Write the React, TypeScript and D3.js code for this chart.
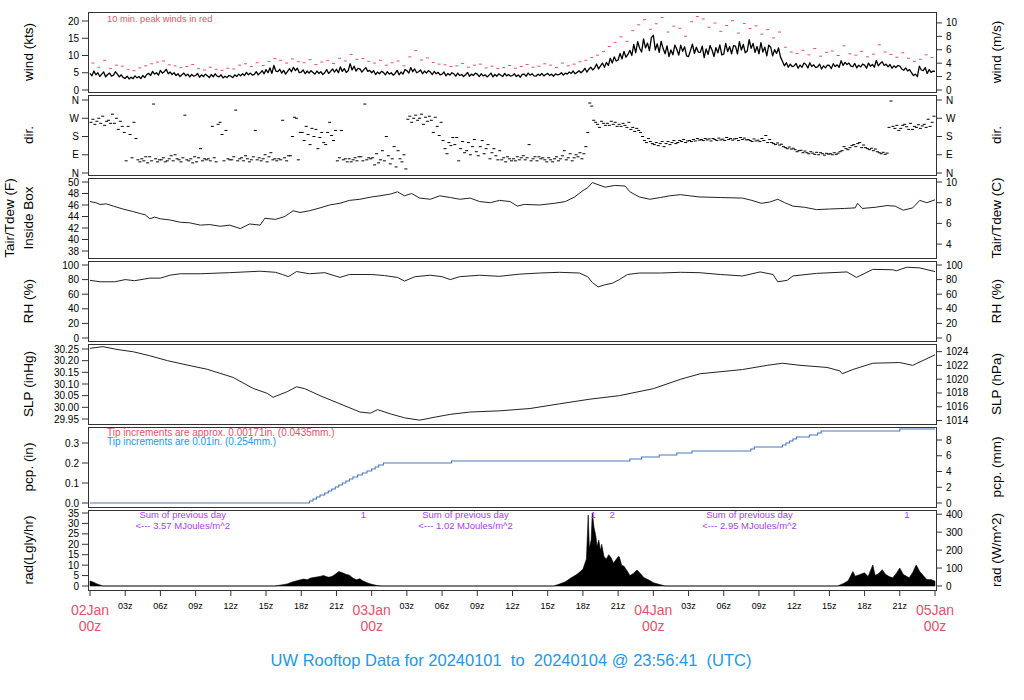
import React from 'react';
import * as d3 from 'd3';

// ---- data (hours since 02Jan 00z) ----
const WIND_STEP_H = 1 / 6; // one sample each 10 min
const WIND_KTS = [
  4.8, 4.1, 5.5, 4.4, 5.0, 3.9, 4.6, 5.2, 3.8, 4.5, 4.9, 4.0,
  4.3, 5.3, 4.6, 3.8, 4.4, 3.6, 3.4, 4.0, 3.2, 3.7, 3.3, 4.1,
  3.5, 3.9, 3.3, 4.2, 3.6, 4.5, 4.8, 4.2, 5.4, 4.6, 5.0, 4.3,
  5.7, 4.9, 5.3, 6.0, 4.7, 5.2, 4.5, 5.0, 4.2, 4.7, 3.9, 4.4,
  4.9, 4.1, 4.6, 3.8, 4.5, 4.0, 4.2, 4.8, 3.7, 4.4, 3.9, 4.6,
  4.1, 3.6, 4.5, 3.8, 4.7, 4.0, 3.8, 4.4, 3.5, 4.0, 3.6, 4.2,
  4.0, 3.6, 4.4, 3.9, 4.6, 4.1, 4.7, 4.2, 5.1, 4.4, 4.9, 4.3,
  4.5, 5.3, 4.4, 4.9, 5.6, 4.7, 5.9, 5.0, 6.4, 4.8, 7.1, 5.5,
  5.3, 6.0, 4.9, 5.7, 4.6, 5.4, 6.2, 5.3, 6.6, 5.6, 6.3, 5.0,
  5.2, 5.8, 4.7, 5.5, 4.9, 5.6, 5.1, 4.6, 5.5, 4.8, 5.3, 4.5,
  5.0, 5.9, 4.8, 5.4, 6.1, 5.2, 6.0, 5.0, 6.7, 5.4, 6.2, 5.1,
  5.6, 7.6, 5.8, 6.9, 5.5, 6.3, 6.1, 5.2, 5.9, 6.5, 5.4, 5.7,
  5.0, 5.6, 4.5, 5.2, 4.7, 5.4, 5.1, 4.4, 5.3, 4.6, 5.0, 4.3,
  4.8, 5.7, 4.4, 5.2, 4.6, 5.9, 5.6, 4.9, 6.5, 5.3, 6.1, 5.0,
  5.3, 5.8, 4.7, 5.5, 4.9, 5.6, 5.2, 4.5, 5.4, 4.7, 5.1, 4.4,
  4.6, 5.2, 4.1, 4.8, 4.3, 5.0, 4.7, 4.0, 4.9, 4.2, 4.5, 3.9,
  4.4, 5.1, 4.0, 4.6, 4.2, 4.9, 4.6, 3.9, 4.7, 4.1, 4.4, 3.8,
  4.3, 4.9, 3.8, 4.5, 4.0, 4.7, 4.3, 3.9, 4.8, 4.1, 4.5, 4.0,
  4.2, 4.7, 3.9, 4.4, 3.7, 4.5, 4.6, 4.0, 4.9, 4.3, 4.7, 4.1,
  4.0, 4.6, 4.2, 4.8, 4.1, 4.5, 4.8, 4.2, 4.6, 4.0, 4.7, 4.4,
  4.5, 5.0, 4.3, 4.9, 4.6, 5.2, 4.8, 5.5, 4.7, 5.1, 5.6, 5.0,
  5.5, 6.3, 5.2, 6.0, 6.6, 5.8, 6.4, 7.5, 6.1, 7.0, 7.8, 6.6,
  8.0, 7.1, 9.2, 7.8, 9.6, 8.4, 8.7, 10.6, 9.0, 11.2, 9.5, 10.3,
  11.5, 10.0, 13.2, 10.8, 14.0, 12.1, 11.0, 14.8, 12.2, 13.6, 11.4, 15.2,
  15.9, 11.6, 13.4, 10.9, 14.1, 12.0, 10.5, 12.8, 9.7, 11.6, 10.2, 13.0,
  11.8, 10.1, 13.0, 11.2, 12.5, 9.9, 9.7, 11.5, 13.3, 10.6, 12.4, 11.0,
  10.9, 12.7, 9.4, 11.9, 10.3, 12.9, 11.6, 9.7, 12.3, 10.8, 13.1, 10.2,
  10.4, 13.5, 11.1, 12.6, 10.5, 12.9, 12.7, 10.5, 14.0, 11.6, 13.2, 10.8,
  11.3, 14.6, 12.1, 13.5, 10.9, 12.6, 10.5, 13.7, 11.0, 12.4, 9.9, 13.0,
  12.4, 9.9, 11.7, 10.6, 12.2, 9.6, 8.3, 7.0, 7.9, 6.6, 7.5, 6.8,
  7.0, 7.7, 6.3, 7.2, 6.6, 7.8, 7.4, 6.4, 7.9, 6.8, 7.3, 6.5,
  6.7, 7.5, 6.1, 7.0, 6.4, 7.2, 7.1, 6.2, 7.6, 6.8, 7.3, 6.6,
  8.5, 7.1, 8.0, 7.4, 7.8, 6.9, 6.8, 7.7, 6.4, 7.2, 6.7, 7.5,
  7.2, 6.3, 7.8, 6.9, 7.4, 6.6, 8.6, 7.0, 7.7, 8.2, 7.1, 7.5,
  6.7, 7.4, 6.3, 7.0, 6.5, 7.1, 6.9, 6.1, 5.7, 6.4, 5.5, 5.9,
  5.0, 4.2, 4.6, 3.9, 6.9, 5.8, 5.6, 6.5, 4.8, 5.9, 5.1, 5.5,
  5.4,
];

const PEAK_STEP_H = 0.5;
const PEAK_KTS = [
  7.8, 6.6, 8.6, 6.2, 7.2, 6.9, 6.0, 5.6, 6.4, 7.0, 7.6, 8.1,
  8.4, 7.3, 7.0, 6.5, 6.8, 7.4, 6.2, 5.8, 6.6, 6.0, 5.7, 6.3,
  6.1, 7.2, 7.6, 6.8, 7.9, 7.1, 8.3, 9.1, 8.6, 7.8, 9.0, 8.2,
  7.9, 8.8, 7.4, 8.1, 8.5, 7.7, 9.2, 8.4, 10.3, 8.9, 9.1, 8.3,
  7.8, 8.6, 7.2, 7.9, 8.4, 7.0, 9.6, 11.4, 8.7, 9.3, 8.0, 7.5,
  7.3, 6.8, 7.0, 7.7, 6.6, 7.2, 7.5, 6.4, 6.9, 6.2, 6.5, 7.1,
  6.3, 6.8, 7.4, 6.6, 6.9, 7.6, 7.2, 6.5, 7.8, 7.0, 7.5, 8.2,
  8.6, 9.4, 10.1, 11.2, 12.6, 13.8, 15.4, 14.1, 17.2, 18.9, 20.4, 17.6,
  19.2, 21.0, 16.8, 18.5, 17.9, 15.6, 19.8, 21.3, 20.6, 18.2, 19.4, 17.0,
  18.7, 20.1, 16.5, 19.3, 17.8, 18.6, 16.2, 17.5, 15.1, 16.8, 12.4, 11.0,
  10.6, 11.5, 10.2, 12.0, 9.8, 10.9, 11.3, 10.0, 12.8, 10.5, 10.1, 11.2,
  9.6, 10.4, 13.1, 11.0, 10.3, 9.5, 10.8, 9.2, 8.3, 8.9, 10.2, 9.4,
];

const DIR_STEP_H = 1 / 6;
const DIR_DEG = [
  250, 265, 240, 255, 270, 245, 280, 235, 255, 260, 245, 290,
  245, 270, 215, 255, 230, 200, 60, 230, 190, 75, 250, 170,
  65, 55, 70, 60, 80, 50, 80, 60, 340, 70, 55, 65,
  65, 75, 55, 60, 70, 85, 60, 90, 70, 65, 55, 75,
  285, 65, 60, 70, 50, 80, 55, 75, 120, 60, 70, 65,
  70, 60, 230, 75, 55, 240, 250, 190, 60, 210, 70, 65,
  65, 80, 310, 60, 70, 75, 60, 85, 70, 55, 65, 80,
  210, 65, 75, 60, 70, 90, 55, 80, 100, 65, 70, 60,
  70, 65, 260, 75, 60, 85, 85, 180, 275, 270, 65, 200,
  200, 160, 230, 190, 140, 220, 180, 215, 120, 175, 200, 150,
  140, 200, 250, 185, 160, 210, 60, 75, 210, 65, 70, 55,
  70, 55, 65, 75, 60, 80, 80, 60, 340, 65, 75, 70,
  75, 40, 95, 50, 65, 110, 60, 180, 85, 45, 70, 130,
  30, 110, 70, 55, 90, 20, 265, 280, 250, 270, 285, 260,
  270, 290, 240, 275, 255, 280, 260, 200, 275, 230, 185, 250,
  160, 120, 95, 150, 135, 175, 140, 175, 60, 120, 155, 100,
  110, 150, 90, 130, 165, 105, 85, 130, 160, 95, 120, 140,
  70, 100, 120, 85, 65, 110, 65, 75, 55, 80, 70, 60,
  70, 60, 80, 65, 75, 85, 65, 75, 140, 60, 70, 80,
  60, 80, 70, 75, 65, 55, 75, 65, 55, 70, 80, 60,
  70, 85, 110, 65, 75, 95, 60, 75, 90, 80, 100, 70,
  95, 130, 200, 345, 330, 260, 250, 240, 225, 255, 245, 235,
  245, 235, 255, 240, 250, 230, 240, 230, 245, 235, 225, 250,
  215, 225, 205, 220, 210, 200, 180, 160, 150, 170, 155, 145,
  140, 150, 135, 145, 155, 130, 145, 155, 140, 150, 160, 145,
  150, 160, 155, 165, 150, 158, 160, 155, 165, 158, 170, 162,
  165, 160, 170, 163, 168, 158, 170, 165, 160, 172, 163, 167,
  160, 175, 165, 170, 162, 168, 170, 160, 175, 165, 172, 163,
  165, 160, 155, 168, 158, 162, 155, 170, 160, 185, 150, 165,
  150, 145, 140, 148, 138, 142, 130, 125, 120, 128, 118, 122,
  115, 105, 110, 112, 100, 108, 100, 95, 105, 98, 92, 102,
  90, 100, 95, 88, 97, 93, 95, 90, 100, 92, 98, 105,
  110, 130, 120, 115, 125, 135, 140, 130, 145, 150, 125, 138,
  125, 120, 115, 122, 110, 118, 105, 100, 95, 102, 92, 98,
  225, 355, 230, 220, 235, 210, 220, 235, 240, 228, 215, 245,
  215, 230, 225, 238, 220, 232, 240, 225, 265, 230, 250, 280,
];

const TEMP_H = [0, 0.5, 0.85, 1.4, 2, 2.8, 3.6, 4.3, 4.7, 5.1, 5.5, 6, 6.8, 7.7, 8.5, 9.4, 10.2, 11.1, 11.9, 12.8, 13.6, 14.5, 14.9, 15.8, 16.6, 17.3, 17.9, 18.7, 19.6, 20.4, 21.3, 22.1, 23, 24, 24.7, 25.6, 26.2, 26.8, 27.4, 28.1, 29, 29.8, 30.7, 31.5, 32.4, 33.2, 34.1, 34.9, 35.8, 36.4, 37, 38.3, 39.6, 40.5, 41.3, 42, 42.4, 42.8, 43.2, 43.9, 44.7, 45.6, 46, 46.8, 47.7, 48.6, 49.4, 50.3, 51.1, 51.9, 53.7, 55.6, 56.4, 57.2, 57.9, 58.6, 59.2, 59.9, 60.9, 61.9, 63, 64.3, 65.2, 65.4, 65.8, 66.9, 67.9, 68.6, 69.3, 70.1, 70.7, 71.3, 72];
const TEMP_F = [46.6, 46.4, 46.1, 46.2, 45.8, 45.3, 44.9, 44.5, 44.3, 43.6, 43.9, 43.6, 43.4, 43.0, 42.9, 42.5, 42.6, 42.3, 42.5, 41.9, 42.7, 42.5, 43.7, 43.5, 44.0, 45.0, 44.7, 45.0, 45.5, 46.0, 46.3, 46.8, 47.0, 47.4, 47.6, 47.9, 48.3, 47.6, 48.0, 47.2, 47.0, 47.6, 47.3, 47.0, 47.2, 46.6, 46.4, 46.8, 46.6, 45.8, 46.1, 46.0, 46.3, 46.6, 47.4, 48.5, 49.0, 49.9, 49.6, 49.1, 49.4, 49.3, 48.3, 47.4, 47.0, 47.3, 47.6, 47.8, 47.6, 47.4, 47.3, 47.2, 46.8, 46.3, 46.5, 47.0, 46.4, 45.8, 45.6, 45.2, 45.3, 45.4, 45.5, 46.3, 45.4, 45.6, 45.9, 45.8, 45.1, 45.5, 46.8, 46.4, 46.9];

const RH_H = [0, 0.85, 2.1, 3, 3.8, 5.1, 6, 6.8, 7.7, 9.4, 11.9, 14.5, 15.8, 16.4, 16.9, 17.6, 18.7, 20, 21.3, 22.1, 24, 25.1, 26.2, 26.8, 27.7, 29, 30, 30.7, 31.5, 33.2, 34.9, 36.6, 38.3, 40, 41.7, 42.4, 42.8, 43.3, 43.9, 44.5, 45.1, 45.8, 46.8, 48.6, 50.3, 51.9, 53.7, 55.6, 57.1, 58.2, 58.6, 59.4, 59.9, 61.9, 64.5, 65.3, 66.7, 68.4, 68.7, 69.6, 70.7, 72];
const RH_PCT = [79, 77, 77, 80, 78.5, 82, 82, 86, 88, 88, 89.5, 91.5, 90, 87, 84, 91, 88, 89.5, 83, 87, 87, 85.5, 83, 78, 84, 86, 84, 80, 84, 86, 84.5, 87.5, 89, 90, 89, 84, 76, 70, 73, 75, 80, 87, 89, 89, 90, 89.5, 87, 85, 90.5, 87, 77, 79, 85, 88.5, 90.5, 83, 94, 93.5, 92, 97, 96, 91];

const SLP_H = [0, 1.1, 2.3, 3.7, 5.1, 6.6, 8.3, 10, 12.2, 13.9, 15.1, 15.6, 16.8, 17.6, 18.3, 19.6, 21.3, 23, 23.9, 24.5, 25.6, 26.8, 28.1, 29.4, 30.7, 32.4, 34.9, 37.5, 40, 42.6, 45.1, 48, 50.3, 52, 55.6, 57.7, 59, 60.5, 62.8, 63.9, 64.1, 65, 66.7, 69, 70.1, 72];
const SLP_INHG = [30.253, 30.26, 30.248, 30.238, 30.221, 30.2, 30.181, 30.163, 30.128, 30.081, 30.06, 30.043, 30.067, 30.088, 30.08, 30.05, 30.015, 29.98, 29.975, 29.99, 29.972, 29.955, 29.945, 29.958, 29.97, 29.98, 29.985, 29.995, 30.015, 30.035, 30.05, 30.08, 30.12, 30.144, 30.162, 30.18, 30.189, 30.18, 30.171, 30.156, 30.144, 30.162, 30.189, 30.192, 30.18, 30.225];

const PCP_H = [0, 18.5, 18.7, 19, 19.3, 19.6, 20, 20.3, 20.6, 20.9, 21.2, 21.5, 21.8, 22.1, 22.4, 22.8, 23.2, 23.6, 24, 24.3, 24.6, 25, 30.8, 46, 47, 48.5, 50, 51.3, 56.3, 56.6, 59, 59.3, 59.6, 59.9, 60.2, 61.3, 62, 62.3, 69, 72];
const PCP_IN = [0, 0, 0.01, 0.02, 0.03, 0.04, 0.05, 0.06, 0.07, 0.08, 0.09, 0.1, 0.11, 0.12, 0.13, 0.14, 0.15, 0.16, 0.17, 0.18, 0.19, 0.2, 0.21, 0.22, 0.23, 0.24, 0.25, 0.26, 0.27, 0.28, 0.29, 0.3, 0.31, 0.32, 0.33, 0.34, 0.35, 0.36, 0.37, 0.37];

const RAD_H = [0, 0.3, 0.6, 0.9, 1.1, 15.7, 16.3, 16.8, 17.3, 17.8, 18.2, 18.5, 18.8, 19.2, 19.6, 19.9, 20.3, 20.6, 20.9, 21.2, 21.5, 21.8, 22.1, 22.4, 22.7, 23, 23.2, 23.6, 24, 24.4, 24.8,
  39.5, 40, 40.5, 41, 41.5, 42, 42.3, 42.45, 42.55, 42.7, 42.8, 42.95, 43.1, 43.2, 43.35, 43.5, 43.6, 43.8, 44, 44.2, 44.4, 44.6, 44.8, 45, 45.1, 45.3, 45.5, 45.8, 46, 46.3, 46.6, 46.9, 47.2, 47.5, 47.8, 48, 48.4, 48.8, 49,
  63.7, 64.2, 64.6, 65, 65.2, 65.6, 66, 66.3, 66.7, 66.9, 67.2, 67.5, 67.8, 68.1, 68.4, 68.7, 69, 69.3, 69.8, 70.1, 70.4, 70.7, 71, 71.3, 71.7, 72];
const RAD_LY = [2.4, 1.8, 1.0, 0.4, 0, 0, 0.5, 1.0, 2.0, 2.8, 3.3, 3.0, 3.8, 4.2, 4.6, 5.0, 4.2, 4.5, 5.6, 6.9, 6.4, 5.6, 5.2, 3.8, 3.0, 3.5, 2.6, 1.6, 0.8, 0.3, 0,
  0, 0.9, 2.0, 3.9, 5.6, 8, 13, 34, 18, 22, 35, 28, 24, 19, 22, 17, 20, 14, 13, 15, 13.5, 11, 12.5, 14, 14, 10, 9.5, 7, 5, 6, 7.7, 6, 4, 3.2, 2.3, 1.6, 0.9, 0.3, 0,
  0, 1.2, 2.5, 6.9, 4.7, 5.5, 6.3, 4.5, 10.1, 5.0, 6.0, 7.8, 5.5, 4.5, 3.9, 6.0, 8.6, 5.5, 3.9, 6.5, 10.1, 6.9, 5.0, 3.1, 3.0, 2.3];

const RAD_SUM_H = [7.9, 32.0, 56.2];
const RAD_SUM_MJ = ['3.57', '1.02', '2.95'];
const RAD_MARK_H = [23.3, 42.9, 44.5, 69.6];
const RAD_MARK_TXT = ['1', '1', '2', '1'];

const DAY_LABELS = ['02Jan', '03Jan', '04Jan', '05Jan'];
const HOUR_TICKS = d3.range(0, 73, 3);

const WIND_TICKS = [0, 5, 10, 15, 20];
const WIND_MS_TICKS = [0, 2, 4, 6, 8, 10];
const DIR_TICKS = [[0, 'N'], [90, 'E'], [180, 'S'], [270, 'W'], [360, 'N']] as [number, string][];
const TEMP_F_TICKS = [38, 40, 42, 44, 46, 48, 50];
const TEMP_C_TICKS = [4, 6, 8, 10];
const RH_TICKS = [0, 20, 40, 60, 80, 100];
const SLP_TICKS = [29.95, 30.0, 30.05, 30.1, 30.15, 30.2, 30.25];
const HPA_TICKS = [1014, 1016, 1018, 1020, 1022, 1024];
const PCP_TICKS = [0, 0.1, 0.2, 0.3];
const MM_TICKS = [0, 2, 4, 6, 8];
const RAD_TICKS = [0, 5, 10, 15, 20, 25, 30, 35];
const WM2_TICKS = [0, 100, 200, 300, 400];

const FONT = '"Liberation Sans", Arial, Helvetica, sans-serif';
const PINK = '#df536b';
const BLUE = '#2297e6';
const PURPLE = '#a83cf0';
const FRAME = '#333';

const BOX_L = 88;
const BOX_R = 936;
const PANEL_H = 80;
const PANEL_TOPS = [12, 95, 178, 261, 344, 427, 510];

const x = d3.scaleLinear().domain([0, 72]).range([90, 935]);
const yWind = d3.scaleLinear().domain([0, 20]).range([90, 21]);
const yDir = d3.scaleLinear().domain([0, 360]).range([173, 100]);
const yTemp = d3.scaleLinear().domain([38, 50]).range([251, 182]);
const yRh = d3.scaleLinear().domain([0, 100]).range([338, 265]);
const ySlp = d3.scaleLinear().domain([29.95, 30.25]).range([419, 349]);
const yPcp = d3.scaleLinear().domain([0, 0.3]).range([503, 443]);
const yRad = d3.scaleLinear().domain([0, 35]).range([586, 513]);

const pad2 = (n: number) => (n < 10 ? '0' : '') + n;

function LeftAxis({ ticks, y }: { ticks: [number, string][]; y: (v: number) => number }) {
  return (
    <g>
      {ticks.map(([v, l], i) => (
        <g key={i}>
          <line x1={BOX_L - 6} x2={BOX_L} y1={y(v)} y2={y(v)} stroke={FRAME} />
          <text x={BOX_L - 9} y={y(v)} dy="0.35em" textAnchor="end" fontSize={10}>{l}</text>
        </g>
      ))}
    </g>
  );
}

function RightAxis({ ticks, y }: { ticks: [number, string][]; y: (v: number) => number }) {
  return (
    <g>
      {ticks.map(([v, l], i) => (
        <g key={i}>
          <line x1={BOX_R} x2={BOX_R + 6} y1={y(v)} y2={y(v)} stroke={FRAME} />
          <text x={BOX_R + 10} y={y(v)} dy="0.35em" textAnchor="start" fontSize={10}>{l}</text>
        </g>
      ))}
    </g>
  );
}

function VTitle({ cx, cy, text, size = 13.5 }: { cx: number; cy: number; text: string; size?: number }) {
  return (
    <text transform={`translate(${cx},${cy}) rotate(-90)`} textAnchor="middle" dy="0.35em" fontSize={size}>{text}</text>
  );
}

export default function App() {
  const windLine = d3.line<number>().x((_, i) => x(i * WIND_STEP_H)).y(d => yWind(d))(WIND_KTS) || '';
  const tempLine = d3.line<number>().x((_, i) => x(TEMP_H[i])).y(d => yTemp(d))(TEMP_F) || '';
  const rhLine = d3.line<number>().x((_, i) => x(RH_H[i])).y(d => yRh(d))(RH_PCT) || '';
  const slpLine = d3.line<number>().x((_, i) => x(SLP_H[i])).y(d => ySlp(d))(SLP_INHG) || '';
  const pcpLine = d3.line<number>().curve(d3.curveStepAfter).x((_, i) => x(PCP_H[i])).y(d => yPcp(d))(PCP_IN) || '';
  const radArea = d3.area<number>().x((_, i) => x(RAD_H[i])).y0(yRad(0)).y1(d => yRad(d))(RAD_LY) || '';

  const centers = PANEL_TOPS.map(t => t + PANEL_H / 2);
  const LT = 28; // left title column
  const RT = 996; // right title column

  return (
    <div style={{ position: 'absolute', left: 0, top: 0 }}>
      <svg width={1024} height={700} style={{ display: 'block', fontFamily: FONT }}>
        <rect width={1024} height={700} fill="#fff" />

        {/* panel frames */}
        {PANEL_TOPS.map((t, i) => (
          <rect key={i} x={BOX_L + 0.5} y={t + 0.5} width={BOX_R - BOX_L} height={PANEL_H} fill="none" stroke={FRAME} />
        ))}

        {/* wind */}
        {PEAK_KTS.map((v, i) => {
          const cx = x(i * PEAK_STEP_H + 0.25);
          return <line key={i} x1={cx - 1.5} x2={cx + 1.5} y1={yWind(v)} y2={yWind(v)} stroke={PINK} strokeWidth={1} />;
        })}
        <path d={windLine} fill="none" stroke="#000" strokeWidth={1.3} strokeLinejoin="round" />
        <text x={107} y={22} fontSize={9.3} fill={PINK}>10 min. peak winds in red</text>
        <LeftAxis ticks={WIND_TICKS.map(v => [v, String(v)])} y={yWind} />
        <RightAxis ticks={WIND_MS_TICKS.map(v => [v / 0.514444, String(v)])} y={yWind} />

        {/* direction */}
        {DIR_DEG.map((v, i) => {
          const cx = x(i * DIR_STEP_H + DIR_STEP_H / 2);
          return <line key={i} x1={cx - 1.5} x2={cx + 1.5} y1={yDir(v)} y2={yDir(v)} stroke="#000" strokeWidth={1} />;
        })}
        <LeftAxis ticks={DIR_TICKS} y={yDir} />
        <RightAxis ticks={DIR_TICKS} y={yDir} />

        {/* temperature */}
        <path d={tempLine} fill="none" stroke="#222" strokeWidth={1} />
        <LeftAxis ticks={TEMP_F_TICKS.map(v => [v, String(v)])} y={yTemp} />
        <RightAxis ticks={TEMP_C_TICKS.map(v => [v * 9 / 5 + 32, String(v)])} y={yTemp} />

        {/* RH */}
        <path d={rhLine} fill="none" stroke="#222" strokeWidth={1} />
        <LeftAxis ticks={RH_TICKS.map(v => [v, String(v)])} y={yRh} />
        <RightAxis ticks={RH_TICKS.map(v => [v, String(v)])} y={yRh} />

        {/* SLP */}
        <path d={slpLine} fill="none" stroke="#222" strokeWidth={1} />
        <LeftAxis ticks={SLP_TICKS.map(v => [v, v.toFixed(2)])} y={ySlp} />
        <RightAxis ticks={HPA_TICKS.map(v => [v * 0.02953, String(v)])} y={ySlp} />

        {/* precipitation */}
        <path d={pcpLine} fill="none" stroke="#4a78bd" strokeWidth={1.1} />
        <text x={107} y={436} fontSize={10} fill={PINK}>Tip increments are approx. 0.00171in. (0.0435mm.)</text>
        <text x={107} y={445} fontSize={10} fill={BLUE}>Tip increments are 0.01in. (0.254mm.)</text>
        <LeftAxis ticks={PCP_TICKS.map(v => [v, v.toFixed(1)])} y={yPcp} />
        <RightAxis ticks={MM_TICKS.map(v => [v / 25.4, String(v)])} y={yPcp} />

        {/* radiation */}
        <path d={radArea} fill="#000" stroke="#000" strokeWidth={0.6} />
        {RAD_SUM_H.map((h, i) => (
          <g key={i} fontSize={9.5} fill={PURPLE} textAnchor="middle">
            <text x={x(h)} y={518}>Sum of previous day</text>
            <text x={x(h)} y={529}>{`<--- ${RAD_SUM_MJ[i]} MJoules/m^2`}</text>
          </g>
        ))}
        {RAD_MARK_H.map((h, i) => (
          <text key={i} x={x(h)} y={518} fontSize={9.5} fill={PURPLE} textAnchor="middle">{RAD_MARK_TXT[i]}</text>
        ))}
        <LeftAxis ticks={RAD_TICKS.map(v => [v, String(v)])} y={yRad} />
        <RightAxis ticks={WM2_TICKS.map(v => [v / 11.622, String(v)])} y={yRad} />

        {/* time axis */}
        {HOUR_TICKS.map(h => (
          <g key={h}>
            <line x1={x(h)} x2={x(h)} y1={590.5} y2={596} stroke={FRAME} />
            {h % 24 === 0 ? (
              <g fill={PINK} fontSize={14} textAnchor="middle">
                <text x={x(h)} y={615}>{DAY_LABELS[h / 24]}</text>
                <text x={x(h)} y={631}>00z</text>
              </g>
            ) : (
              <text x={x(h)} y={609} fontSize={9} textAnchor="middle">{`${pad2(h % 24)}z`}</text>
            )}
          </g>
        ))}

        {/* axis titles */}
        <VTitle cx={LT} cy={centers[0]} text="wind (kts)" />
        <VTitle cx={LT} cy={centers[1]} text="dir." />
        <VTitle cx={9} cy={centers[2]} text="Tair/Tdew (F)" />
        <VTitle cx={LT} cy={centers[2]} text="Inside Box" />
        <VTitle cx={LT} cy={centers[3]} text="RH (%)" />
        <VTitle cx={LT} cy={centers[4]} text="SLP (inHg)" />
        <VTitle cx={LT} cy={centers[5]} text="pcp. (in)" />
        <VTitle cx={LT} cy={centers[6]} text="rad(Lgly/hr)" />

        <VTitle cx={RT} cy={centers[0]} text="wind (m/s)" />
        <VTitle cx={RT} cy={centers[1]} text="dir." />
        <VTitle cx={RT} cy={centers[2]} text="Tair/Tdew (C)" />
        <VTitle cx={RT} cy={centers[3]} text="RH (%)" />
        <VTitle cx={RT} cy={centers[4]} text="SLP (hPa)" />
        <VTitle cx={RT} cy={centers[5]} text="pcp. (mm)" />
        <VTitle cx={RT} cy={centers[6]} text="rad (W/m^2)" />

        <text x={511} y={666} fontSize={16.5} fill={BLUE} textAnchor="middle" style={{ whiteSpace: 'pre' }}>
          {'UW Rooftop Data for 20240101  to  20240104 @ 23:56:41  (UTC)'}
        </text>
      </svg>
    </div>
  );
}
